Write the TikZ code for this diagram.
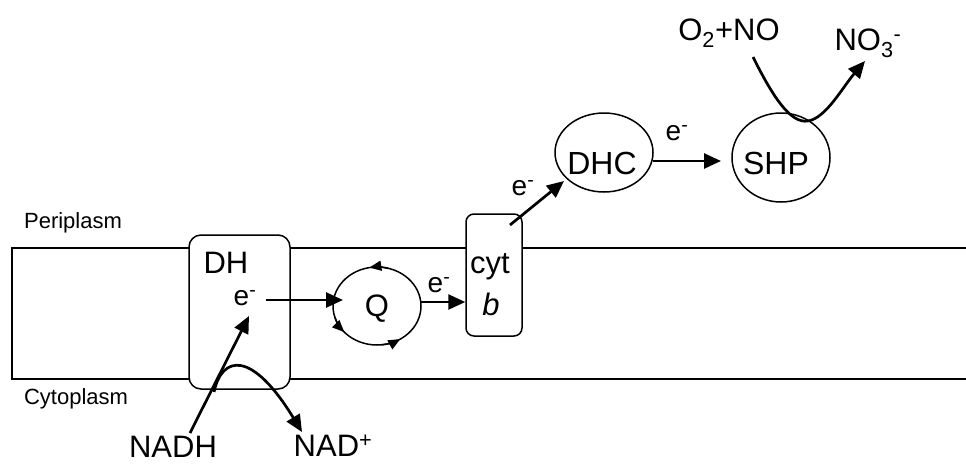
\documentclass[tikz,border=0pt]{standalone}
\usepackage{fontspec}
\setmainfont{Liberation Sans}
\usetikzlibrary{shapes.geometric,arrows.meta}
\begin{document}
\begin{tikzpicture}[x=1pt,y=1pt,
  big/.style={font=\fontsize{31}{36}\selectfont, inner sep=0pt},
  elec/.style={font=\fontsize{28}{32}\selectfont, inner sep=0pt},
  small/.style={font=\fontsize{22}{26}\selectfont, inner sep=0pt},
  mem/.style={line width=2pt},
  boxshape/.style={draw, line width=1.5pt, fill=white, inner sep=0pt},
  oval/.style={draw, ellipse, line width=1.5pt, inner sep=0pt},
  arr/.style={line width=2.7pt, -{Triangle[length=17pt,width=15pt]}},
  qtip/.style={line width=1.5pt, -{Triangle[length=12pt,width=10pt]}},
]
\useasboundingbox (0,0) rectangle (966,-463);

% membrane
\draw[mem] (966,-248) -- (12,-248) -- (12,-379) -- (966,-379);
\node[small] (peri) at (73,-223) {Periplasm};
\node[small] (cyto) at (76,-399) {Cytoplasm};

% DH box
\node[boxshape, rounded corners=12pt, minimum width=101pt, minimum height=154pt] (DH) at (239.5,-312) {};
\node[big] (DHl) at (226,-263) {DH};
\node[elec] (e1) at (245,-298) {e\textsuperscript{-}};

% Q
\node[oval, minimum width=88pt, minimum height=78pt] (Q) at (377,-306) {};
\node[big] (Ql) at (377,-309) {Q};
\draw[qtip] ([shift={(75:44 and 39)}]377,-306) arc[start angle=75, end angle=100, x radius=44, y radius=39];
\draw[qtip] ([shift={(196:44 and 39)}]377,-306) arc[start angle=196, end angle=222, x radius=44, y radius=39];
\draw[qtip] ([shift={(276:44 and 39)}]377,-306) arc[start angle=276, end angle=302, x radius=44, y radius=39];

% cyt b
\node[boxshape, rounded corners=8pt, minimum width=56pt, minimum height=122pt] (cyt) at (494,-275) {};
\node[big] (cytl) at (490,-267) {cyt};
\node[big] (bl) at (491,-304) {\itshape b};

% DHC, SHP
\node[oval, minimum width=98pt, minimum height=79pt] (DHC) at (604,-152.5) {};
\node[big, font=\fontsize{32}{36}\selectfont] (DHCl) at (602,-163) {DHC};
\node[oval, minimum width=98pt, minimum height=89pt] (SHP) at (781,-157.5) {};
\node[big, font=\fontsize{32}{36}\selectfont] (SHPl) at (776,-163) {SHP};

% labels
\node[elec] (e2) at (439,-285) {e\textsuperscript{-}};
\node[elec] (e3) at (523,-188) {e\textsuperscript{-}};
\node[elec] (e4) at (677,-133) {e\textsuperscript{-}};
\node[big] (o2no) at (729,-33) {O\textsubscript{2}+NO};
\node[big] (no3) at (868,-43) {NO\textsubscript{3}\textsuperscript{-}};
\node[big] (nadh) at (173,-447) {NADH};
\node[big] (nad) at (333,-446) {NAD\textsuperscript{+}};

% connectors
\coordinate (a1) at (266,-300);
\coordinate (a2) at (343,-300);
\draw[arr] (a1) -- (a2);
\coordinate (b1) at (421,-302);
\draw[arr] (b1) -- (cyt.west |- b1);
\coordinate (c1) at (510,-225);
\coordinate (c2) at (564,-181);
\draw[arr] (c1) -- (c2);
\coordinate (d1) at (653,-161);
\coordinate (d2) at (721,-161);
\draw[arr] (d1) -- (d2);
\coordinate (n1) at (190,-433);
\coordinate (n2) at (249,-316);
\draw[arr] (n1) -- (n2);
\coordinate (m1) at (214,-392);
\coordinate (m2) at (302,-432);
\draw[arr] (m1) .. controls (222,-355) and (252,-350) .. (m2);
\coordinate (s1) at (753,-57);
\coordinate (s2) at (808,-121);
\coordinate (s3) at (865,-61);
\draw[line width=2.7pt] (s1) .. controls (772,-95) and (790,-124) .. (s2);
\draw[arr] (s2) .. controls (826,-118) and (842,-88) .. (s3);
\end{tikzpicture}
\end{document}
